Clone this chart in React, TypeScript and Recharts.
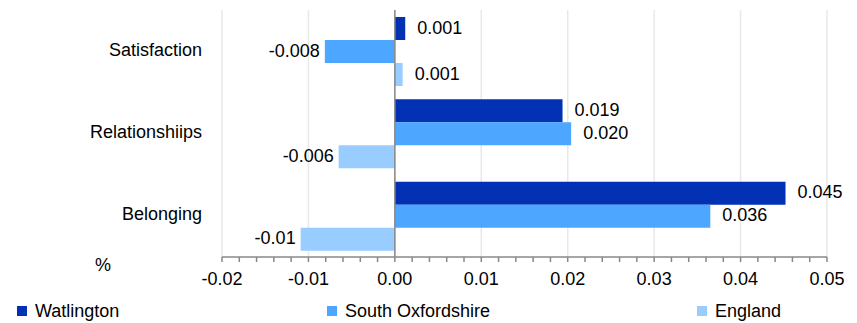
import {
  BarChart,
  Bar,
  XAxis,
  YAxis,
  CartesianGrid,
  ReferenceLine,
  Legend,
  LabelList,
} from "recharts";

const CATEGORIES = ["Satisfaction", "Relationshiips", "Belonging"];

const WATLINGTON = [0.0012, 0.0194, 0.0452];
const SOUTH_OXON = [-0.0081, 0.0204, 0.0365];
const ENGLAND = [0.0009, -0.0065, -0.0109];

const WATLINGTON_LABELS = ["0.001", "0.019", "0.045"];
const SOUTH_OXON_LABELS = ["-0.008", "0.020", "0.036"];
const ENGLAND_LABELS = ["0.001", "-0.006", "-0.01"];

const MAJOR_TICKS = [-0.02, -0.01, 0, 0.01, 0.02, 0.03, 0.04, 0.05];
const MAJOR_TICK_LABELS = ["-0.02", "-0.01", "0.00", "0.01", "0.02", "0.03", "0.04", "0.05"];

const SERIES = [
  { key: "watlington", name: "Watlington", color: "#0331b4", values: WATLINGTON, labels: WATLINGTON_LABELS },
  { key: "southOxon", name: "South Oxfordshire", color: "#4da6ff", values: SOUTH_OXON, labels: SOUTH_OXON_LABELS },
  { key: "england", name: "England", color: "#99ccff", values: ENGLAND, labels: ENGLAND_LABELS },
];

// 4 minor ticks between every pair of major ticks
const MINOR_TICKS: number[] = [];
MAJOR_TICKS.forEach((t, i) => {
  if (i === MAJOR_TICKS.length - 1) {
    MINOR_TICKS.push(t);
    return;
  }
  const step = (MAJOR_TICKS[i + 1] - t) / 5;
  for (let k = 0; k < 5; k++) MINOR_TICKS.push(Math.round((t + step * k) * 1e5) / 1e5);
});

const rows = CATEGORIES.map((name, i) => {
  const row: Record<string, string | number> = { name };
  SERIES.forEach((s) => {
    row[s.key] = s.values[i];
    row[s.key + "Label"] = s.labels[i];
  });
  return row;
});

const FONT = "'Liberation Sans', Arial, sans-serif";
// legend item offsets, relative to the legend box (which starts at the left margin)
const LEGEND_X = [5, 315, 685];

function XTick(props: any) {
  const { x, y, payload } = props;
  const i = MAJOR_TICKS.findIndex((t) => Math.abs(t - payload.value) < 1e-9);
  if (i < 0) return <g />;
  return (
    <text x={x} y={y + 13} textAnchor="middle" fontSize={18} fill="#000">
      {MAJOR_TICK_LABELS[i]}
    </text>
  );
}

function YTick(props: any) {
  const { x, y, payload } = props;
  return (
    <text x={x} y={y + 4.5} textAnchor="end" fontSize={18} fill="#000">
      {payload.value}
    </text>
  );
}

function PercentLabel(props: any) {
  const vb = props.viewBox || { x: 222, y: 257 };
  return (
    <text x={vb.x - 127} y={vb.y + 14} fontSize={18} fill="#000">
      %
    </text>
  );
}

function makeBarLabel(values: number[]) {
  return function BarLabel(props: any) {
    const { x, y, width, height, index, value } = props;
    const left = Math.min(x, x + width);
    const right = Math.max(x, x + width);
    const neg = values[index] < 0;
    return (
      <text
        x={neg ? left - 5 : right + 12}
        y={y + height / 2 + 5}
        textAnchor={neg ? "end" : "start"}
        fontSize={18}
        fill="#000"
      >
        {value}
      </text>
    );
  };
}

function LegendContent() {
  return (
    <div style={{ position: "relative", width: 815, height: 24, fontSize: 18, color: "#000" }}>
      {SERIES.map((s, i) => (
        <div
          key={s.key}
          style={{ position: "absolute", left: LEGEND_X[i], top: 0, height: 24, display: "flex", alignItems: "center", whiteSpace: "nowrap" }}
        >
          <span style={{ width: 10, height: 10, background: s.color, marginRight: 8, display: "inline-block" }} />
          <span>{s.name}</span>
        </div>
      ))}
    </div>
  );
}

export default function App() {
  return (
    <div style={{ position: "absolute", left: 0, top: 0, fontFamily: FONT, background: "#fff" }}>
      <BarChart
        width={857}
        height={323}
        data={rows}
        layout="vertical"
        margin={{ top: 10, right: 30, bottom: 0, left: 12 }}
        barCategoryGap={7}
        barGap={0}
      >
        <CartesianGrid
          horizontal={false}
          verticalValues={MAJOR_TICKS}
          stroke="#e8e8e8"
          strokeWidth={1.5}
        />
        <XAxis
          type="number"
          domain={[-0.02, 0.05]}
          ticks={MINOR_TICKS}
          interval={0}
          height={42}
          tickSize={5}
          tickMargin={10}
          stroke="#888"
          strokeWidth={1.5}
          tick={<XTick />}
          label={<PercentLabel />}
        />
        <YAxis
          type="category"
          dataKey="name"
          width={210}
          axisLine={false}
          tickLine={false}
          tickSize={0}
          tickMargin={20}
          tick={<YTick />}
        />
        {SERIES.map((s) => (
          <Bar key={s.key} dataKey={s.key} name={s.name} fill={s.color} isAnimationActive={false}>
            <LabelList dataKey={s.key + "Label"} content={makeBarLabel(s.values)} />
          </Bar>
        ))}
        <ReferenceLine x={0} stroke="#888" strokeWidth={1.5} />
        <Legend verticalAlign="bottom" height={24} content={<LegendContent />} />
      </BarChart>
    </div>
  );
}
